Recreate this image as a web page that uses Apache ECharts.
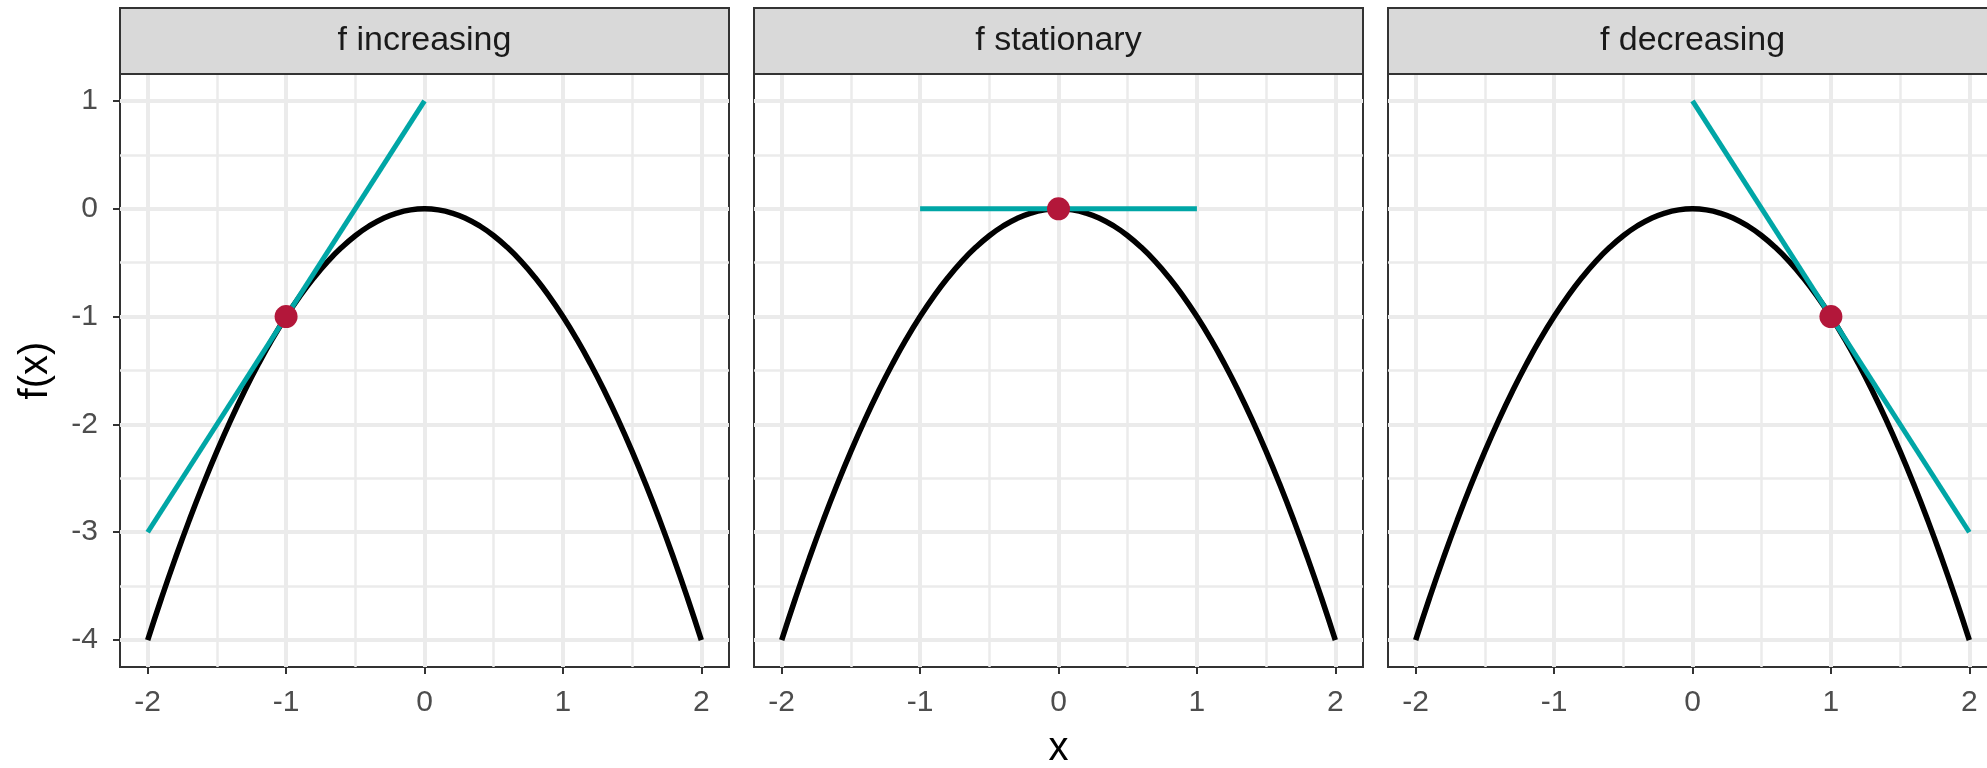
<!DOCTYPE html>
<html>
<head>
<meta charset="utf-8">
<script src="https://cdn.jsdelivr.net/npm/echarts@6/dist/echarts.min.js"></script>
<style>
html,body{margin:0;padding:0;background:#fff;}
#c{width:1987px;height:768px;}
</style>
</head>
<body>
<div id="c"></div>
<script>
// ---- data ----
const panelTitles = ['f increasing', 'f stationary', 'f decreasing'];
const xMajor = [-2, -1, 0, 1, 2];
const xMinor = [-1.5, -0.5, 0.5, 1.5];
const yMajor = [-4, -3, -2, -1, 0, 1];
const yMinor = [-3.5, -2.5, -1.5, -0.5, 0.5];
const curveX = [-2,-1.9,-1.8,-1.7,-1.6,-1.5,-1.4,-1.3,-1.2,-1.1,-1,-0.9,-0.8,-0.7,-0.6,-0.5,-0.4,-0.3,-0.2,-0.1,0,0.1,0.2,0.3,0.4,0.5,0.6,0.7,0.8,0.9,1,1.1,1.2,1.3,1.4,1.5,1.6,1.7,1.8,1.9,2];
const curveY = [-4,-3.61,-3.24,-2.89,-2.56,-2.25,-1.96,-1.69,-1.44,-1.21,-1,-0.81,-0.64,-0.49,-0.36,-0.25,-0.16,-0.09,-0.04,-0.01,0,-0.01,-0.04,-0.09,-0.16,-0.25,-0.36,-0.49,-0.64,-0.81,-1,-1.21,-1.44,-1.69,-1.96,-2.25,-2.56,-2.89,-3.24,-3.61,-4];
const tangentX = [[-2, 0], [-1, 1], [0, 2]];
const tangentY = [[-3, 1], [0, 0], [1, -3]];
const pointX = [-1, 0, 1];
const pointY = [-1, 0, -1];
const xTitle = 'x';
const yTitle = 'f(x)';

// ---- layout ----
const panelLeft = [120, 754, 1388];
const panelTop = 74, panelW = 609, panelH = 593;
const stripTop = 8;
const FONT = 'Liberation Sans, Arial, Helvetica, sans-serif';

const grids = [], xAxes = [], yAxes = [], series = [], graphics = [];
for (let k = 0; k < 3; k++) {
  grids.push({left: panelLeft[k], top: panelTop, width: panelW, height: panelH,
    show: true, backgroundColor: '#fff', borderColor: '#333333', borderWidth: 2,
    containLabel: false, outerBoundsMode: 'none'});
  // minor x
  xAxes.push({type: 'value', gridIndex: k, position: 'bottom', offset: 0, min: -2.2, max: 2.2,
    axisLine: {show: false, onZero: false}, axisTick: {show: false, customValues: xMinor},
    axisLabel: {show: false, customValues: xMinor},
    splitLine: {show: true, lineStyle: {color: '#EBEBEB', width: 2.5}}});
  // major x
  xAxes.push({type: 'value', gridIndex: k, position: 'bottom', offset: 0, min: -2.2, max: 2.2,
    name: k === 1 ? xTitle : '', nameLocation: 'middle', nameGap: 62,
    nameTextStyle: {fontFamily: FONT, fontSize: 40, color: '#000'},
    axisLine: {show: false, onZero: false},
    axisTick: {show: true, customValues: xMajor, length: 7, lineStyle: {color: '#333333', width: 2}},
    axisLabel: {show: true, customValues: xMajor, fontFamily: FONT, fontSize: 30, color: '#4D4D4D', margin: 21},
    splitLine: {show: true, lineStyle: {color: '#EBEBEB', width: 4}}});
  // minor y
  yAxes.push({type: 'value', gridIndex: k, position: 'left', offset: 0, min: -4.25, max: 1.25,
    axisLine: {show: false, onZero: false}, axisTick: {show: false, customValues: yMinor},
    axisLabel: {show: false, customValues: yMinor},
    splitLine: {show: true, lineStyle: {color: '#EBEBEB', width: 2.5}}});
  // major y
  yAxes.push({type: 'value', gridIndex: k, position: 'left', offset: 0, min: -4.25, max: 1.25,
    name: k === 0 ? yTitle : '', nameLocation: 'middle', nameGap: 64, nameRotate: 90,
    nameTextStyle: {fontFamily: FONT, fontSize: 40, color: '#000'},
    axisLine: {show: false, onZero: false},
    axisTick: {show: k === 0, customValues: yMajor, length: 7, lineStyle: {color: '#333333', width: 2}},
    axisLabel: {show: k === 0, customValues: yMajor, fontFamily: FONT, fontSize: 30, color: '#4D4D4D', margin: 22},
    splitLine: {show: true, lineStyle: {color: '#EBEBEB', width: 4}}});

  series.push({type: 'line', xAxisIndex: 2 * k + 1, yAxisIndex: 2 * k + 1,
    data: curveX.map((x, i) => [x, curveY[i]]), showSymbol: false, smooth: true,
    lineStyle: {color: '#000', width: 5.5}, z: 3, silent: true});
  series.push({type: 'line', xAxisIndex: 2 * k + 1, yAxisIndex: 2 * k + 1,
    data: tangentX[k].map((x, i) => [x, tangentY[k][i]]), showSymbol: false,
    lineStyle: {color: '#00A6A6', width: 5}, z: 4, silent: true});
  series.push({type: 'scatter', xAxisIndex: 2 * k + 1, yAxisIndex: 2 * k + 1,
    data: [[pointX[k], pointY[k]]], symbolSize: 23,
    itemStyle: {color: '#B3173A', opacity: 1}, z: 5, silent: true});

  graphics.push({type: 'rect', shape: {x: panelLeft[k], y: stripTop, width: panelW, height: panelTop - stripTop},
    style: {fill: '#D9D9D9', stroke: '#333333', lineWidth: 2}, z: 10});
  graphics.push({type: 'text', x: panelLeft[k] + panelW / 2, y: (stripTop + panelTop) / 2,
    style: {text: panelTitles[k], fill: '#1A1A1A', font: '34px ' + FONT, textAlign: 'center', textVerticalAlign: 'middle'}, z: 11});
}

const chart = echarts.init(document.getElementById('c'), null, {renderer: 'canvas'});
chart.setOption({
  animation: false,
  backgroundColor: '#fff',
  grid: grids, xAxis: xAxes, yAxis: yAxes, series: series, graphic: graphics
});
</script>
</body>
</html>
